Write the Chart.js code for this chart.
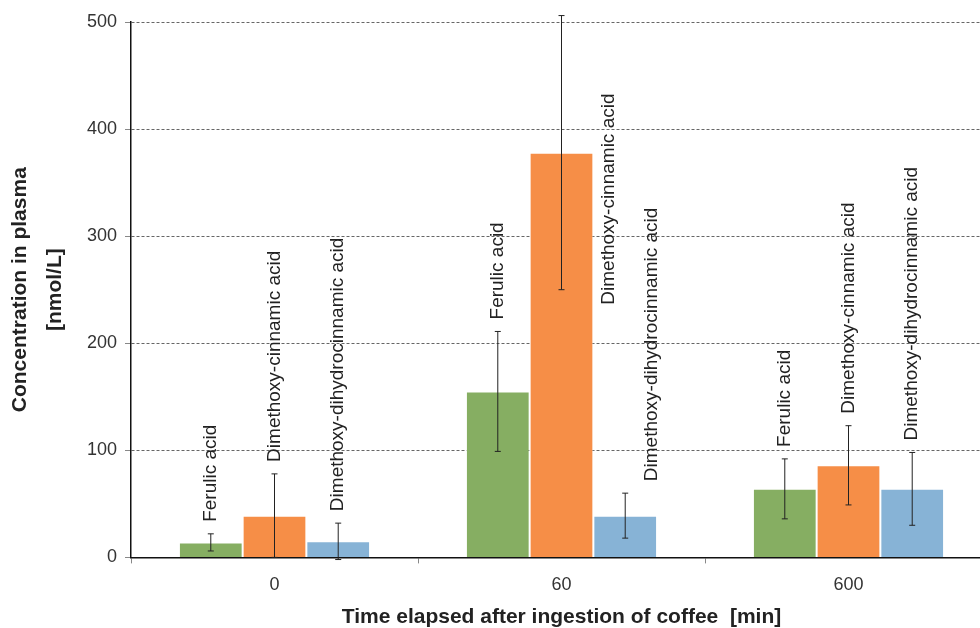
<!DOCTYPE html>
<html lang="en">
<head>
    <meta charset="UTF-8">
    <title>Concentration in plasma after coffee</title>
    <style>
        html, body { margin: 0; padding: 0; background: #fff; overflow: hidden; }
        #wrap { width: 992px; height: 628px; }
    </style>
</head>
<body>
<div id="wrap"><canvas id="plasmaChart" width="992" height="628"></canvas></div>

<script src="https://cdn.jsdelivr.net/npm/chart.js"></script>
<script>
    // time points (min)
    const categories = ['0', '60', '600'];
    const seriesNames = ['Ferulic acid', 'Dimethoxy-cinnamic acid', 'Dimethoxy-dihydrocinnamic acid'];

    // mean concentration, nmol/L
    const ferulic = [14, 155, 64];
    const cinnamic = [39, 378, 86];
    const dihydro = [15, 39, 64];

    // error bars (+/-)
    const ferulicErr = [8, 56, 28];
    const cinnamicErr = [39, 128, 37];
    const dihydroErr = [17, 21, 34];

    const yTicks = [0, 100, 200, 300, 400, 500];

    const colors = ['#86ae62', '#f68e47', '#87b3d6'];
    const FONT = "'Liberation Sans', Arial, sans-serif";

    // error bars + rotated series names above each bar
    const errorBarPlugin = {
        id: 'errorBars',
        afterDatasetsDraw(chart) {
            const ctx = chart.ctx;
            const y = chart.scales.y;
            const top = chart.chartArea.top;
            ctx.save();
            ctx.strokeStyle = '#222';
            ctx.lineWidth = 1;
            chart.data.datasets.forEach((ds, i) => {
                const meta = chart.getDatasetMeta(i);
                meta.data.forEach((bar, j) => {
                    const v = ds.data[j], e = ds.errors[j];
                    const yHi = y.getPixelForValue(v + e);
                    const yLo = y.getPixelForValue(Math.max(v - e, -2));
                    ctx.beginPath();
                    ctx.moveTo(bar.x, yHi); ctx.lineTo(bar.x, yLo);
                    ctx.moveTo(bar.x - 3, yHi); ctx.lineTo(bar.x + 3, yHi);
                    ctx.moveTo(bar.x - 3, yLo); ctx.lineTo(bar.x + 3, yLo);
                    ctx.stroke();
                });
            });

            ctx.font = '19px ' + FONT;
            ctx.fillStyle = '#222';
            ctx.textAlign = 'left';
            ctx.textBaseline = 'middle';
            const nGroups = categories.length;
            for (let j = 0; j < nGroups; j++) {
                let prev = null;
                chart.data.datasets.forEach((ds, i) => {
                    const bar = chart.getDatasetMeta(i).data[j];
                    const v = ds.data[j], e = ds.errors[j];
                    const w = ctx.measureText(ds.label).width;
                    let x = bar.x;
                    let base = y.getPixelForValue(v + e) - 12;
                    if (base - w < top - 10) {
                        // no room above: put it beside the bar
                        x = bar.x + bar.width / 2 + 15;
                        base = y.getPixelForValue(v - e) + 15;
                    }
                    if (prev && x - prev.x < 40 && base > prev.base - prev.w && base - w < prev.base) {
                        x = prev.x + 43;
                    }
                    ctx.save();
                    ctx.translate(x, base);
                    ctx.rotate(-Math.PI / 2);
                    ctx.fillText(ds.label, 0, 0);
                    ctx.restore();
                    prev = { x, base, w };
                });
            }
            ctx.restore();
        }
    };

    const datasets = [ferulic, cinnamic, dihydro].map((vals, i) => ({
        label: seriesNames[i],
        data: vals,
        errors: [ferulicErr, cinnamicErr, dihydroErr][i],
        backgroundColor: colors[i],
        borderColor: 'rgba(255,255,255,0.5)',
        borderWidth: 1,
        categoryPercentage: 0.666,
        barPercentage: 1.0
    }));

    new Chart(document.getElementById('plasmaChart'), {
        type: 'bar',
        data: { labels: categories, datasets },
        options: {
            responsive: false,
            animation: false,
            layout: { padding: { top: 22, right: 0, left: 0, bottom: 0 } },
            plugins: { legend: { display: false }, tooltip: { enabled: false } },
            scales: {
                x: {
                    grid: { offset: true, drawOnChartArea: false, tickLength: 6, color: '#888' },
                    border: { color: '#111', width: 1.5 },
                    ticks: { color: '#333', font: { family: FONT, size: 18 }, padding: 11 },
                    title: {
                        display: true,
                        text: 'Time elapsed after ingestion of coffee  [min]',
                        color: '#222',
                        font: { family: FONT, size: 21, weight: 'bold', lineHeight: 1.0 },
                        padding: { top: 0, bottom: 0 }
                    }
                },
                y: {
                    min: 0, max: 500,
                    afterFit: s => { s.width = 131; },
                    afterBuildTicks: s => { s.ticks = yTicks.map(v => ({ value: v })); },
                    grid: {
                        color: ctx => ctx.tick.value === 0 ? 'rgba(0,0,0,0)' : '#666',
                        tickColor: '#888',
                        tickLength: 6
                    },
                    // in v4 border.dash styles the grid lines
                    border: { color: '#111', width: 1.5, dash: [3, 2] },
                    ticks: { color: '#333', font: { family: FONT, size: 18 }, padding: 8 },
                    title: {
                        display: true,
                        text: ['Concentration in plasma', '[nmol/L]'],
                        color: '#222',
                        font: { family: FONT, size: 21, weight: 'bold', lineHeight: 1.65 },
                        padding: { top: 3, bottom: 0 }
                    }
                }
            }
        },
        plugins: [errorBarPlugin]
    });
</script>
</body>
</html>
